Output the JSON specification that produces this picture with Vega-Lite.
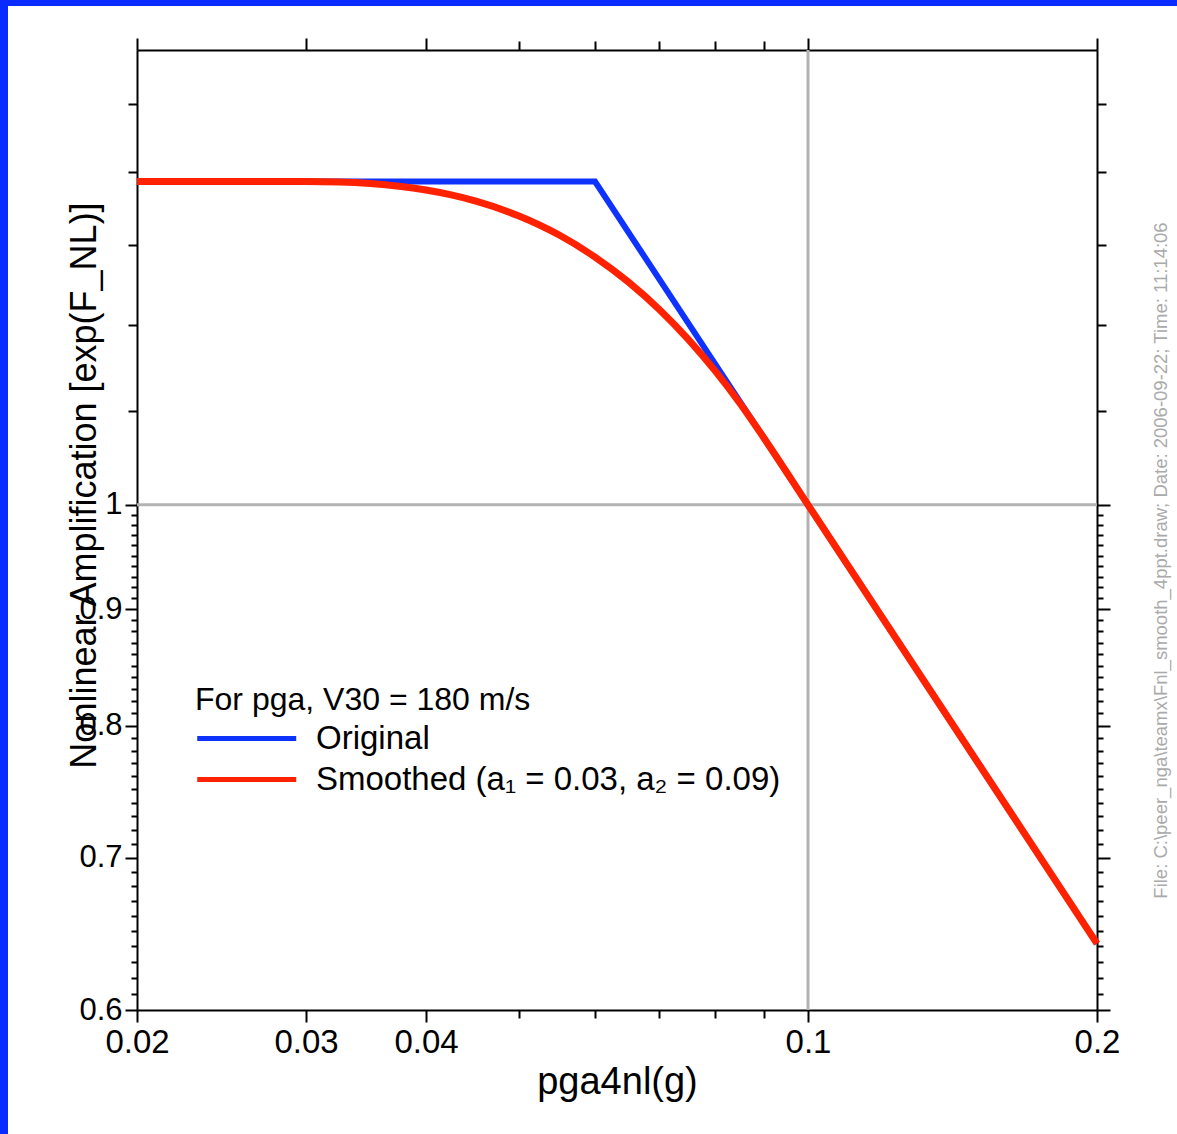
{
  "$schema": "https://vega.github.io/schema/vega-lite/v6.json",
  "background": "white",
  "padding": 0,
  "spacing": 0,
  "columns": 3,
  "bounds": "flush",
  "config": {"font": "Liberation Sans", "view": {"stroke": null}},
  "concat": [
    {"width": 8, "height": 6, "data": {"values": []}, "mark": "rect", "view": {"fill": "#0a2bff", "stroke": null}},
    {"width": 129, "height": 6, "data": {"values": []}, "mark": "rect", "view": {"fill": "#0a2bff", "stroke": null}},
    {"width": 1040, "height": 6, "data": {"values": []}, "mark": "rect", "view": {"fill": "#0a2bff", "stroke": null}},
    {"width": 8, "height": 44, "data": {"values": []}, "mark": "rect", "view": {"fill": "#0a2bff", "stroke": null}},
    {"width": 129, "height": 44, "data": {"values": []}, "mark": "rect", "view": {"stroke": null}},
    {"width": 1040, "height": 44, "data": {"values": []}, "mark": "rect", "view": {"stroke": null}},
    {"width": 8, "height": 1084, "data": {"values": []}, "mark": "rect", "view": {"fill": "#0a2bff", "stroke": null}},
    {"width": 129, "height": 1084, "data": {"values": []}, "mark": "rect", "view": {"stroke": null}},
    {
      "width": 960,
      "height": 960,
      "layer": [
        {
          "data": {"values": [{"pga": 0.1}]},
          "mark": {"type": "rule", "color": "#b3b3b3", "strokeWidth": 3},
          "encoding": {
            "x": {
              "field": "pga", "type": "quantitative",
              "scale": {"type": "log", "domain": [0.02, 0.2], "nice": false},
              "axis": {
                "orient": "top", "title": null, "labels": false, "grid": false,
                "values": [0.02, 0.03, 0.04, 0.05, 0.06, 0.07, 0.08, 0.09, 0.1, 0.2],
                "domainColor": "black", "domainWidth": 2, "tickColor": "black", "tickWidth": 2,
                "tickSize": {"condition": {"test": "datum.value==0.02||datum.value==0.03||datum.value==0.04||datum.value==0.1||datum.value==0.2", "value": 12}, "value": 9}
              }
            }
          }
        },
        {
          "data": {"values": [{"amp": 1}]},
          "mark": {"type": "rule", "color": "#b3b3b3", "strokeWidth": 3},
          "encoding": {
            "y": {
              "field": "amp", "type": "quantitative",
              "scale": {"type": "log", "domain": [0.6, 1.584], "nice": false, "zero": false},
              "axis": {
                "orient": "right", "labels": false, "grid": false,
                "values": [0.6, 0.61, 0.62, 0.63, 0.64, 0.65, 0.66, 0.67, 0.68, 0.69, 0.7, 0.71, 0.72, 0.73, 0.74, 0.75, 0.76, 0.77, 0.78, 0.79, 0.8, 0.81, 0.82, 0.83, 0.84, 0.85, 0.86, 0.87, 0.88, 0.89, 0.9, 0.91, 0.92, 0.93, 0.94, 0.95, 0.96, 0.97, 0.98, 0.99, 1, 1.1, 1.2, 1.3, 1.4, 1.5],
                "domainColor": "black", "domainWidth": 2, "tickColor": "black", "tickWidth": 2,
                "tickSize": {"condition": [{"test": "datum.value==0.6||datum.value==0.7||datum.value==0.8||datum.value==0.9||datum.value==1", "value": 13}, {"test": "datum.value>1.05", "value": 9}], "value": 6},
                "title": "File: C:\\peer_nga\\teamx\\Fnl_smooth_4ppt.draw; Date: 2006-09-22; Time: 11:14:06",
                "titleFontSize": 18.5, "titleFontWeight": "normal", "titleColor": "#aaaaaa",
                "titleAngle": 270, "titleX": 63, "titleY": 510, "titleAlign": "center", "titleBaseline": "middle"
              }
            }
          }
        },
        {
          "data": {"values": [
            {"pga": 0.02, "amp": 1.3866, "series": "Original"},
            {"pga": 0.06, "amp": 1.3866, "series": "Original"},
            {"pga": 0.2, "amp": 0.6417, "series": "Original"}
          ]},
          "mark": {"type": "line", "strokeWidth": 6},
          "encoding": {
            "x": {
              "field": "pga", "type": "quantitative",
              "scale": {"type": "log", "domain": [0.02, 0.2], "nice": false},
              "axis": {
                "orient": "bottom", "grid": false,
                "values": [0.02, 0.03, 0.04, 0.05, 0.06, 0.07, 0.08, 0.09, 0.1, 0.2],
                "labelExpr": "(datum.value==0.02||datum.value==0.03||datum.value==0.04||datum.value==0.1||datum.value==0.2) ? datum.value + '' : ''",
                "labelFontSize": 33, "labelColor": "black", "labelPadding": 4, "labelFlush": false, "labelOverlap": false, "labelBound": false,
                "domainColor": "black", "domainWidth": 2, "tickColor": "black", "tickWidth": 2,
                "tickSize": {"condition": {"test": "datum.value==0.02||datum.value==0.03||datum.value==0.04||datum.value==0.1||datum.value==0.2", "value": 12}, "value": 8},
                "title": "pga4nl(g)", "titleFontSize": 38, "titleFontWeight": "normal", "titleColor": "black",
                "titleBaseline": "alphabetic", "titleY": 83
              }
            },
            "y": {
              "field": "amp", "type": "quantitative",
              "scale": {"type": "log", "domain": [0.6, 1.584], "nice": false, "zero": false},
              "axis": {
                "orient": "left", "grid": false,
                "values": [0.6, 0.61, 0.62, 0.63, 0.64, 0.65, 0.66, 0.67, 0.68, 0.69, 0.7, 0.71, 0.72, 0.73, 0.74, 0.75, 0.76, 0.77, 0.78, 0.79, 0.8, 0.81, 0.82, 0.83, 0.84, 0.85, 0.86, 0.87, 0.88, 0.89, 0.9, 0.91, 0.92, 0.93, 0.94, 0.95, 0.96, 0.97, 0.98, 0.99, 1, 1.1, 1.2, 1.3, 1.4, 1.5],
                "labelExpr": "(datum.value==0.6||datum.value==0.7||datum.value==0.8||datum.value==0.9||datum.value==1) ? datum.value + '' : ''",
                "labelFontSize": 31, "labelColor": "black", "labelPadding": 3, "labelFlush": false, "labelOverlap": false, "labelBound": false,
                "domainColor": "black", "domainWidth": 2, "tickColor": "black", "tickWidth": 2,
                "tickSize": {"condition": [{"test": "datum.value==0.6||datum.value==0.7||datum.value==0.8||datum.value==0.9||datum.value==1", "value": 12}, {"test": "datum.value>1.05", "value": 9}], "value": 6},
                "title": "Nonlinear Amplification [exp(F_NL)]", "titleFontSize": 36, "titleFontWeight": "normal", "titleColor": "black",
                "titleAngle": 270, "titleX": -42, "titleY": 435, "titleAlign": "center", "titleBaseline": "alphabetic"
              }
            },
            "color": {
              "field": "series", "type": "nominal",
              "scale": {"domain": ["Original", "Smoothed (a₁ = 0.03, a₂ = 0.09)"], "range": ["#0f33ff", "#ff2200"]},
              "legend": {
                "orient": "none", "legendX": 195, "legendY": 685, "padding": 0,
                "title": "For pga, V30 = 180 m/s", "titleFontSize": 32, "titleFontWeight": "normal", "titleColor": "black", "titlePadding": 5, "titleLimit": 0,
                "labelFontSize": 33, "labelColor": "black", "labelLimit": 0, "labelOffset": 88,
                "symbolType": "M-1.73,0H10.27", "symbolSize": 272.25, "symbolStrokeWidth": 5, "rowPadding": 7
              }
            }
          }
        },
        {
          "data": {"values": [
            {"pga": 0.02, "amp": 1.3866, "series": "Smoothed (a₁ = 0.03, a₂ = 0.09)"},
            {"pga": 0.03, "amp": 1.3866, "series": "Smoothed (a₁ = 0.03, a₂ = 0.09)"},
            {"pga": 0.0325, "amp": 1.386, "series": "Smoothed (a₁ = 0.03, a₂ = 0.09)"},
            {"pga": 0.035, "amp": 1.3839, "series": "Smoothed (a₁ = 0.03, a₂ = 0.09)"},
            {"pga": 0.0375, "amp": 1.3802, "series": "Smoothed (a₁ = 0.03, a₂ = 0.09)"},
            {"pga": 0.04, "amp": 1.3749, "series": "Smoothed (a₁ = 0.03, a₂ = 0.09)"},
            {"pga": 0.0425, "amp": 1.3681, "series": "Smoothed (a₁ = 0.03, a₂ = 0.09)"},
            {"pga": 0.045, "amp": 1.3599, "series": "Smoothed (a₁ = 0.03, a₂ = 0.09)"},
            {"pga": 0.05, "amp": 1.3392, "series": "Smoothed (a₁ = 0.03, a₂ = 0.09)"},
            {"pga": 0.055, "amp": 1.314, "series": "Smoothed (a₁ = 0.03, a₂ = 0.09)"},
            {"pga": 0.06, "amp": 1.2848, "series": "Smoothed (a₁ = 0.03, a₂ = 0.09)"},
            {"pga": 0.065, "amp": 1.2528, "series": "Smoothed (a₁ = 0.03, a₂ = 0.09)"},
            {"pga": 0.07, "amp": 1.2185, "series": "Smoothed (a₁ = 0.03, a₂ = 0.09)"},
            {"pga": 0.075, "amp": 1.1825, "series": "Smoothed (a₁ = 0.03, a₂ = 0.09)"},
            {"pga": 0.08, "amp": 1.1454, "series": "Smoothed (a₁ = 0.03, a₂ = 0.09)"},
            {"pga": 0.085, "amp": 1.1077, "series": "Smoothed (a₁ = 0.03, a₂ = 0.09)"},
            {"pga": 0.09, "amp": 1.0697, "series": "Smoothed (a₁ = 0.03, a₂ = 0.09)"},
            {"pga": 0.1, "amp": 1.0, "series": "Smoothed (a₁ = 0.03, a₂ = 0.09)"},
            {"pga": 0.2, "amp": 0.6417, "series": "Smoothed (a₁ = 0.03, a₂ = 0.09)"}
          ]},
          "mark": {"type": "line", "strokeWidth": 7, "interpolate": "monotone"},
          "encoding": {
            "x": {"field": "pga", "type": "quantitative", "scale": {"type": "log", "domain": [0.02, 0.2], "nice": false}, "axis": null},
            "y": {"field": "amp", "type": "quantitative", "scale": {"type": "log", "domain": [0.6, 1.584], "nice": false, "zero": false}, "axis": null},
            "color": {"field": "series", "type": "nominal"}
          }
        }
      ],
      "resolve": {"axis": {"x": "independent", "y": "independent"}}
    }
  ]
}
